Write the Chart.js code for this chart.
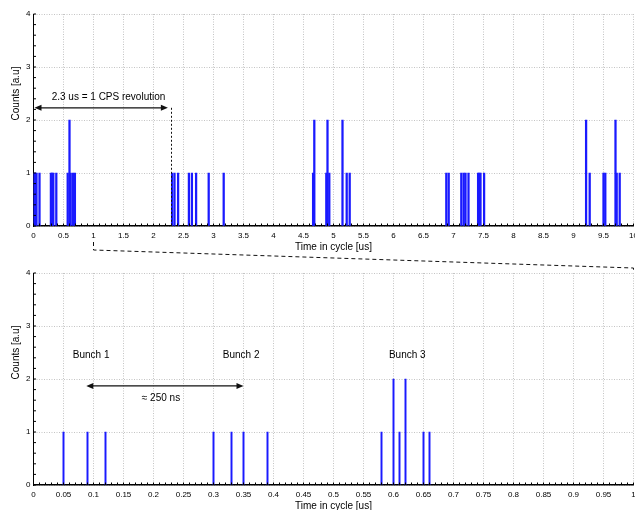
<!DOCTYPE html>
<html>
<head>
<meta charset="utf-8">
<script src="https://cdn.jsdelivr.net/npm/chart.js@4.4.0/dist/chart.umd.min.js"></script>
<style>
    body { margin: 0; background: #fff; }
    #wrap { position: relative; width: 635px; height: 510px; overflow: hidden; }
    .box { position: absolute; left: 0; width: 635px; }
    #boxTop { top: 0; height: 272px; }
    #boxBottom { top: 250px; height: 265px; }
</style>
</head>
<body>
<div id="wrap">
    <div class="box" id="boxTop"><canvas id="chartTop"></canvas></div>
    <div class="box" id="boxBottom"><canvas id="chartBottom"></canvas></div>
</div>
<script>
// Ciclo completo (0 - 10 us)
const tiemposTop = [
    0.01, 0.03, 0.05, 0.10, 0.29, 0.31, 0.33, 0.38, 0.57, 0.60, 0.62, 0.66, 0.69,
    2.31, 2.35, 2.41, 2.59, 2.64, 2.71, 2.92, 3.17,
    4.66, 4.68, 4.88, 4.90, 4.93, 5.15, 5.22, 5.27,
    6.88, 6.92, 7.13, 7.17, 7.20, 7.25, 7.41, 7.43, 7.45, 7.51,
    9.21, 9.27, 9.50, 9.53, 9.70, 9.72, 9.77
];
const cuentasTop = [
    1, 1, 1, 1, 1, 1, 1, 1, 1, 2, 1, 1, 1,
    1, 1, 1, 1, 1, 1, 1, 1,
    1, 2, 1, 2, 1, 2, 1, 1,
    1, 1, 1, 1, 1, 1, 1, 1, 1, 1,
    2, 1, 1, 1, 2, 1, 1
];

// Zoom del primer microsegundo
const tiemposBottom = [0.05, 0.09, 0.12, 0.30, 0.33, 0.35, 0.39, 0.58, 0.60, 0.61, 0.62, 0.65, 0.66];
const cuentasBottom = [1, 1, 1, 1, 1, 1, 1, 1, 2, 1, 2, 1, 1];

const ticksY = [0, 1, 2, 3, 4];
const tituloX = 'Time in cycle [us]';
const tituloY = 'Counts [a.u]';

const FUENTE = '"Liberation Sans", Arial, Helvetica, sans-serif';

// Dibujar punta de flecha
function punta(ctx, x, y, dir) {
    ctx.beginPath();
    ctx.moveTo(x, y);
    ctx.lineTo(x - dir * 7, y - 3);
    ctx.lineTo(x - dir * 7, y + 3);
    ctx.closePath();
    ctx.fill();
}

const extrasPlugin = {
    id: 'extras',
    afterDraw(chart, args, opts) {
        const { ctx, chartArea: area, scales: { x, y } } = chart;
        ctx.save();

        // ticks menores
        ctx.strokeStyle = '#000';
        ctx.lineWidth = 1;
        ctx.beginPath();
        const nX = Math.round((x.max - x.min) / opts.menorX);
        for (let i = 0; i <= nX; i++) {
            const px = x.getPixelForValue(x.min + i * opts.menorX);
            ctx.moveTo(px, area.bottom);
            ctx.lineTo(px, area.bottom - 2.5);
        }
        const nY = Math.round((y.max - y.min) / 0.2);
        for (let i = 0; i <= nY; i++) {
            const py = y.getPixelForValue(i * 0.2);
            ctx.moveTo(area.left, py);
            ctx.lineTo(area.left + 2.5, py);
        }
        ctx.stroke();

        // titulo eje Y
        ctx.fillStyle = '#000';
        ctx.font = '10px ' + FUENTE;
        ctx.textAlign = 'center';
        ctx.textBaseline = 'middle';
        ctx.save();
        ctx.translate(16, y.getPixelForValue(2.5));
        ctx.rotate(-Math.PI / 2);
        ctx.fillText(tituloY, 0, 0);
        ctx.restore();

        // textos
        (opts.textos || []).forEach(t => {
            ctx.fillText(t.texto, x.getPixelForValue(t.x), y.getPixelForValue(t.y));
        });

        // flechas
        ctx.strokeStyle = '#111';
        ctx.fillStyle = '#111';
        ctx.lineWidth = 1.3;
        (opts.flechas || []).forEach(f => {
            const x1 = Math.max(x.getPixelForValue(f.x1), area.left + 1);
            const x2 = x.getPixelForValue(f.x2);
            const py = y.getPixelForValue(f.y);
            ctx.beginPath();
            ctx.moveTo(x1 + 4, py);
            ctx.lineTo(x2 - 4, py);
            ctx.stroke();
            punta(ctx, x1, py, -1);
            punta(ctx, x2, py, 1);
        });

        // lineas punteadas
        ctx.setLineDash([2, 2]);
        ctx.lineWidth = 1;
        (opts.verticales || []).forEach(v => {
            const px = x.getPixelForValue(v.x);
            ctx.beginPath();
            ctx.moveTo(px, y.getPixelForValue(v.y));
            ctx.lineTo(px, area.bottom);
            ctx.stroke();
        });

        // conector hacia el grafico inferior
        if (opts.conector) {
            const px = x.getPixelForValue(opts.conector);
            ctx.setLineDash([4, 3]);
            ctx.beginPath();
            ctx.moveTo(px, area.bottom + 16);
            ctx.lineTo(px, area.bottom + 24);
            ctx.lineTo(area.right, area.bottom + 42);
            ctx.lineTo(area.right, area.bottom + 47);
            ctx.stroke();
        }
        ctx.restore();
    }
};

function crearGrafico(id, tiempos, cuentas, cfg) {
    const ctx = document.getElementById(id).getContext('2d');
    return new Chart(ctx, {
        type: 'bar',
        data: {
            datasets: [{
                data: tiempos.map((t, i) => ({ x: t, y: cuentas[i] })),
                backgroundColor: '#1a1aff',
                borderWidth: 0,
                barThickness: cfg.grosor,
                grouped: false
            }]
        },
        options: {
            responsive: true,
            maintainAspectRatio: false,
            animation: false,
            layout: { padding: { top: cfg.padTop, right: 1.5, left: 0, bottom: cfg.padBottom } },
            plugins: {
                legend: { display: false },
                tooltip: { enabled: false },
                extras: cfg.extras
            },
            scales: {
                x: {
                    type: 'linear',
                    min: cfg.xMin,
                    max: cfg.xMax,
                    offset: false,
                    afterFit: s => {
                        s.height = 30;
                        s.paddingLeft = 0;
                        s.paddingRight = 0;
                    },
                    grid: { offset: false, color: '#c4c4c4', drawTicks: false },
                    border: { display: true, color: '#000', width: 1.5, dash: [1, 1.5] },
                    ticks: {
                        stepSize: cfg.pasoX,
                        padding: 5,
                        color: '#000',
                        font: { family: FUENTE, size: 8 },
                        maxRotation: 0,
                        autoSkip: false,
                        callback: v => String(Math.round(v * 100) / 100)
                    },
                    title: {
                        display: true,
                        text: tituloX,
                        color: '#000',
                        font: { family: FUENTE, size: 10 },
                        padding: { top: 0, bottom: 3 }
                    }
                },
                y: {
                    min: 0,
                    max: 4,
                    afterFit: s => {
                        s.width = 33.5;
                        s.paddingTop = 0;
                        s.paddingBottom = 0;
                    },
                    afterBuildTicks: s => { s.ticks = ticksY.map(v => ({ value: v })); },
                    grid: { color: '#c4c4c4', drawTicks: false },
                    border: { display: true, color: '#000', width: 1, dash: [1, 1.5] },
                    ticks: {
                        padding: 3,
                        color: '#000',
                        font: { family: FUENTE, size: 8 }
                    }
                }
            }
        },
        plugins: [extrasPlugin]
    });
}

crearGrafico('chartTop', tiemposTop, cuentasTop, {
    xMin: 0, xMax: 10, pasoX: 0.5, grosor: 1.6, padTop: 14, padBottom: 16,
    extras: {
        menorX: 0.1,
        textos: [{ texto: '2.3 us = 1 CPS revolution', x: 1.25, y: 2.43 }],
        flechas: [{ x1: 0, x2: 2.24, y: 2.23 }],
        verticales: [{ x: 2.3, y: 2.23 }],
        conector: 1
    }
});

crearGrafico('chartBottom', tiemposBottom, cuentasBottom, {
    xMin: 0, xMax: 1, pasoX: 0.05, grosor: 1.3, padTop: 23, padBottom: 0,
    extras: {
        menorX: 0.01,
        textos: [
            { texto: 'Bunch 1', x: 0.096, y: 2.45 },
            { texto: 'Bunch 2', x: 0.346, y: 2.45 },
            { texto: 'Bunch 3', x: 0.623, y: 2.45 },
            { texto: '\u2248 250 ns', x: 0.2125, y: 1.64 }
        ],
        flechas: [{ x1: 0.088, x2: 0.35, y: 1.87 }]
    }
});
</script>
</body>
</html>
